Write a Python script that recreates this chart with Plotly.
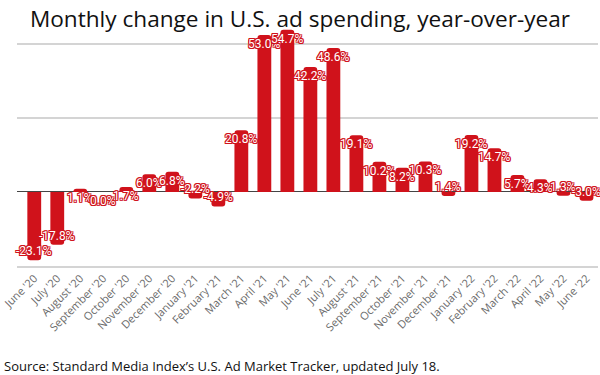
import plotly.graph_objects as go

months = ["June '20", "July '20", "August '20", "September '20", "October '20",
          "November '20", "December '20", "January '21", "February '21", "March '21",
          "April '21", "May '21", "June '21", "July '21", "August '21",
          "September '21", "October '21", "November '21", "December '21", "January '22",
          "February '22", "March '22", "April '22", "May '22", "June '22"]
change = [-23.1, -17.8, 1.1, 0.0, 1.7, 6.0, 6.8, -2.2, -4.9, 20.8,
          53.0, 54.7, 42.2, 48.6, 19.1, 10.2, 8.2, 10.3, -1.4, 19.2,
          14.7, 5.7, 4.3, -1.3, -3.0]
labels = ["-23.1%", "-17.8%", "1.1%", "0.0%", "1.7%", "6.0%", "6.8%", "-2.2%", "-4.9%", "20.8%",
          "53.0%", "54.7%", "42.2%", "48.6%", "19.1%", "10.2%", "8.2%", "10.3%", "1.4%", "19.2%",
          "14.7%", "5.7%", "4.3%", "1.3%", "-3.0%"]

RED = "#d0121b"
halo = ", ".join(f"{dx}px {dy}px 0 {RED}" for dx, dy in
                 [(1, 0), (-1, 0), (0, 1), (0, -1), (1, 1), (-1, -1), (1, -1), (-1, 1)])
lab_font = dict(family="Roboto", size=12, color="white", shadow=halo)

xs = list(range(len(months)))
fig = go.Figure(go.Bar(
    x=xs, y=change,
    marker=dict(color=RED, cornerradius=3, line=dict(width=0)),
    width=0.6, hoverinfo="skip",
))

anns = [dict(x=x, y=v, text=t, xref="x", yref="y", showarrow=False,
             yshift=(-9 if v >= 0 else 9), font=lab_font)
        for x, v, t in zip(xs, change, labels)]
anns.append(dict(text="Source: Standard Media Index\u2019s U.S. Ad Market Tracker, updated July 18.",
                 xref="paper", yref="paper", x=-0.025, xanchor="left",
                 y=-0.415, yanchor="middle", showarrow=False,
                 font=dict(family="Open Sans", size=13, color="#111")))

fig.update_layout(
    width=600, height=375,
    margin=dict(l=17, r=2, t=26, b=109),
    paper_bgcolor="white", plot_bgcolor="white",
    showlegend=False,
    title=dict(text="Monthly change in U.S. ad spending, year-over-year",
               x=0.5, xanchor="center", y=0.95, yanchor="middle",
               font=dict(family="Open Sans", size=22.6, color="#111")),
    annotations=anns,
)
fig.update_xaxes(
    tickmode="array", tickvals=xs, ticktext=months,
    range=[-0.75, 24.5], tickangle=-45, automargin=False,
    tickfont=dict(family="Open Sans", size=11, color="#6a6a6a"),
    showgrid=False, showline=True, linecolor="#d4d4d4", linewidth=1.5,
    ticks="", zeroline=False,
)
fig.update_yaxes(
    range=[-25, 56], tickvals=[-25, 0, 25, 50], showticklabels=False,
    automargin=False,
    showgrid=True, gridcolor="#d4d4d4", gridwidth=1.5,
    zeroline=True, zerolinecolor="#444", zerolinewidth=1,
    ticks="",
)
fig.write_html("out.html", config={"displayModeBar": False},
               post_script="document.body.style.margin='0';")
